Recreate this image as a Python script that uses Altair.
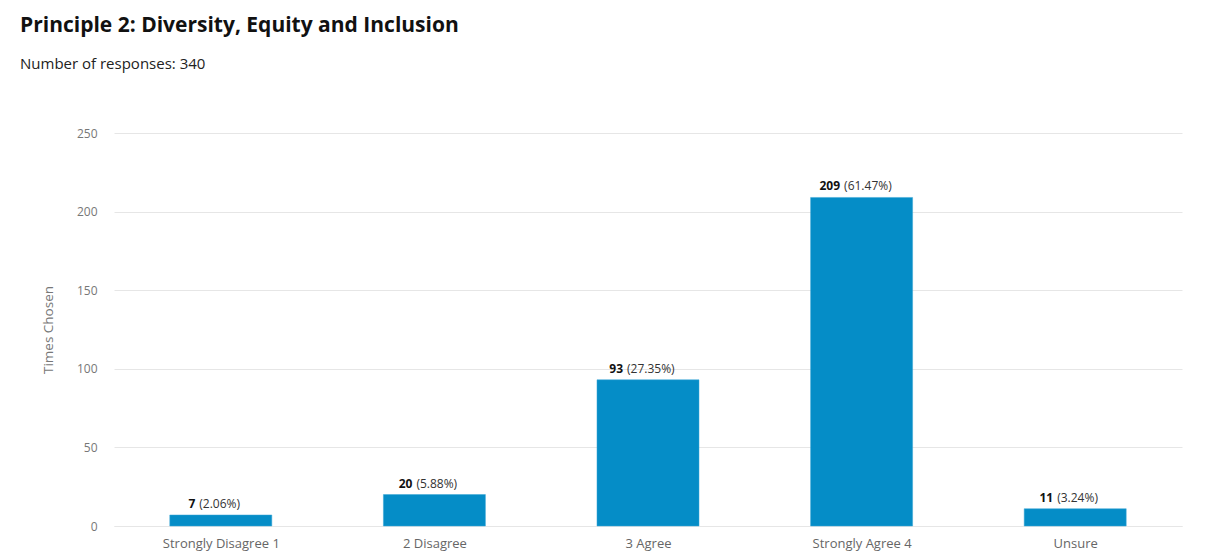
import altair as alt
import pandas as pd

categories = ["Strongly Disagree 1", "2 Disagree", "3 Agree", "Strongly Agree 4", "Unsure"]
counts = [7, 20, 93, 209, 11]
percents = ["2.06", "5.88", "27.35", "61.47", "3.24"]

df = pd.DataFrame({
    "idx": list(range(len(categories))),
    "category": categories,
    "count": counts,
    "pct": ["(" + p + "%)" for p in percents],
})

W, H = 1068, 393
PX = W / len(categories)  # pixels per category unit
FONT = "Open Sans"

label_expr = "[" + ",".join("'" + c + "'" for c in categories) + "][datum.value]"

xscale = alt.Scale(domain=[-0.5, len(categories) - 0.5], nice=False, zero=False)
yscale = alt.Scale(domain=[0, 250], nice=False)

base = alt.Chart(df)

bars = base.transform_calculate(
    x0="datum.idx - 0.2388", x1="datum.idx + 0.2388"
).mark_bar(color="#058DC7", stroke="#3aa6d6", strokeWidth=0.5).encode(
    x=alt.X("x0:Q", scale=xscale,
            axis=alt.Axis(values=list(range(len(categories))), labelExpr=label_expr,
                          title=None, grid=False, ticks=False, domain=True,
                          domainColor="#e6e6e6", labelColor="#666666",
                          labelFont=FONT, labelFontSize=13, labelPadding=11)),
    x2="x1:Q",
    y=alt.Y("count:Q", scale=yscale,
            axis=alt.Axis(values=[0, 50, 100, 150, 200, 250], title="Times Chosen",
                          titleFont=FONT, titleFontSize=13.5, titleFontWeight="normal",
                          titleColor="#777777", titlePadding=21,
                          labelColor="#777777", labelFont=FONT, labelFontSize=12,
                          labelPadding=17, ticks=False, domain=False,
                          gridColor="#e6e6e6")),
    y2=alt.datum(0),
)

calc = base.transform_calculate(
    wn="length(toString(datum.count)) * 7.0",
    wp="length(datum.pct) * 6.0",
).transform_calculate(
    xn="datum.idx + ((datum.wn - datum.wp - 4) / 2 - 6) / " + str(PX),
).transform_calculate(
    xp="datum.xn + 4 / " + str(PX),
)

num_text = calc.mark_text(font=FONT, fontSize=12, fontWeight="bold", color="#111111",
                          align="right", baseline="bottom", dy=-4).encode(
    x=alt.X("xn:Q", scale=xscale),
    y=alt.Y("count:Q", scale=yscale),
    text="count:Q",
)
pct_text = calc.mark_text(font=FONT, fontSize=12, color="#333333",
                          align="left", baseline="bottom", dy=-4).encode(
    x=alt.X("xp:Q", scale=xscale),
    y=alt.Y("count:Q", scale=yscale),
    text="pct:N",
)

chart = alt.layer(bars, num_text, pct_text).properties(
    width=W, height=H,
    autosize=alt.AutoSizeParams(type="none"),
    padding={"left": 106, "top": 125, "right": 18, "bottom": 26},
    title=alt.TitleParams(
        text="Principle 2: Diversity, Equity and Inclusion",
        subtitle="Number of responses: 340",
        anchor="start", frame="group", dx=-94, offset=55,
        font=FONT, fontSize=21, fontWeight="bold", color="#111111",
        subtitleFont=FONT, subtitleFontSize=15, subtitleColor="#222222",
        subtitlePadding=21,
    ),
).configure(background="white").configure_view(stroke=None)

chart.save("out.html", embed_options={"renderer": "svg", "actions": False})
